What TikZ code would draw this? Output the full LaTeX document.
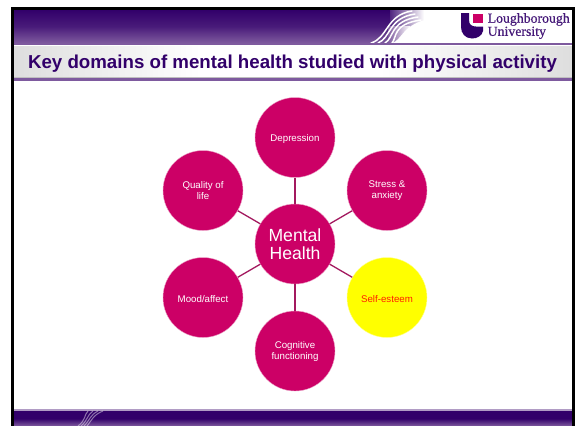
\documentclass[tikz,border=0pt]{standalone}
\usepackage{fontspec}
\setmainfont{Liberation Sans}
\newfontfamily\logofont[FakeBold=0.5]{Liberation Serif}
\definecolor{lpurple}{HTML}{32006A}
\definecolor{lmid}{HTML}{7E5A9E}
\definecolor{lmag}{HTML}{CC0066}
\definecolor{lline}{HTML}{A3195F}
\definecolor{lyellow}{HTML}{FFFF00}
\definecolor{lred}{HTML}{FF2000}
\tikzset{
 x=1pt,y=-1pt,
 bubble/.style={circle,fill=lmag,draw=lmag!35,line width=0.4pt,minimum size=80pt,inner sep=0pt,text=white,align=center,font=\fontsize{9.7}{11}\selectfont,execute at begin node={\rule{0pt}{9.5pt}}},
 bubbletwo/.style={bubble,execute at begin node={\rule{0pt}{11pt}}},
 spoke/.style={draw=lline,line width=1.3pt},
 strand/.style={draw=white,line width=1.5pt,line cap=round},
}
\begin{document}
\begin{tikzpicture}
\useasboundingbox (0,0) rectangle (579,426);
\fill[white] (0,0) rectangle (579,426);
% header band
\fill[top color=lpurple,bottom color=lmid,middle color=lpurple!70!lmid] (14,10) rectangle (392,43);
\shade[left color=lpurple!85,right color=white] (390,10) rectangle (424,34);
\shade[left color=lmid,right color=white] (388,26) rectangle (410,43);
\fill[white] (392,43) .. controls (402,40) and (402,26) .. (425,20) -- (440,20) -- (440,43) -- cycle;
\foreach \k in {0,1,2,3}{
 \draw[strand] (371+7*\k,43) .. controls (388+3*\k,38) and (386+2*\k,15+3*\k) .. (412+3*\k,11+3*\k);
}
% title band
\fill[lmid] (14,43) rectangle (572,45);
\shade[left color=black!13,right color=white] (14,46) rectangle (200,78);
\fill[white] (200,46) rectangle (380,78);
\shade[left color=white,right color=black!13] (380,46) rectangle (572,78);
\fill[black!25] (14,77) rectangle (572,78);
\fill[lmid] (14,78) rectangle (572,80.5);
\node[font=\bfseries\fontsize{18.7}{22}\selectfont,text=lpurple,anchor=base,inner sep=0pt] (title) at (292.5,68.5) {Key domains of mental health studied with physical activity};
% logo
\fill[lpurple] (461,13) -- (469,13) -- (469,20) .. controls (469,25) and (472,26.5) .. (476,26.5) -- (483,26.5) -- (483,31) .. controls (482,36) and (477,38.5) .. (472,38.5) .. controls (465,38.5) and (461,33) .. (461,27) -- cycle;
\fill[lmag] (473,14) rectangle (483,23);
\node[font=\logofont\fontsize{13.8}{10.8}\selectfont,text=lpurple!90,anchor=west,align=left,inner sep=0pt] (logo) at (487.5,26) {Loughborough\\University};
% footer
\fill[lmid!60] (14,408.5) rectangle (572,411);
\fill[top color=lpurple,bottom color=lmid,middle color=lpurple] (14,411) rectangle (572,426);
\foreach \k in {0,1,2,3}{
 \draw[draw=white,line width=1pt,opacity=0.45] (78+3*\k,426) .. controls (86+2*\k,420) and (84+3*\k,415) .. (88+5*\k,411);
}
% frame
\fill[black] (11,7) rectangle (575,10);
\fill[black] (11,7) rectangle (14,426);
\fill[black] (572,7) rectangle (575,426);
% diagram
\node[bubble] (dep) at (295,137.5) {Depression};
\node[bubbletwo] (str) at (387,190.5) {Stress \&\\anxiety};
\node[bubble,fill=lyellow,draw=lyellow!40,text=lred] (self) at (387,297.5) {Self-esteem};
\node[bubbletwo] (cog) at (295,351) {Cognitive\\functioning};
\node[bubble] (mood) at (203,297.5) {Mood/affect};
\node[bubbletwo] (qol) at (203,190.5) {Quality of\\life};
\node[bubble,font=\fontsize{17.6}{18}\selectfont] (mh) at (295,244) {Mental\\Health};
\foreach \n in {dep,str,self,cog,mood,qol}{\draw[spoke] (mh) -- (\n);}
\end{tikzpicture}
\end{document}
